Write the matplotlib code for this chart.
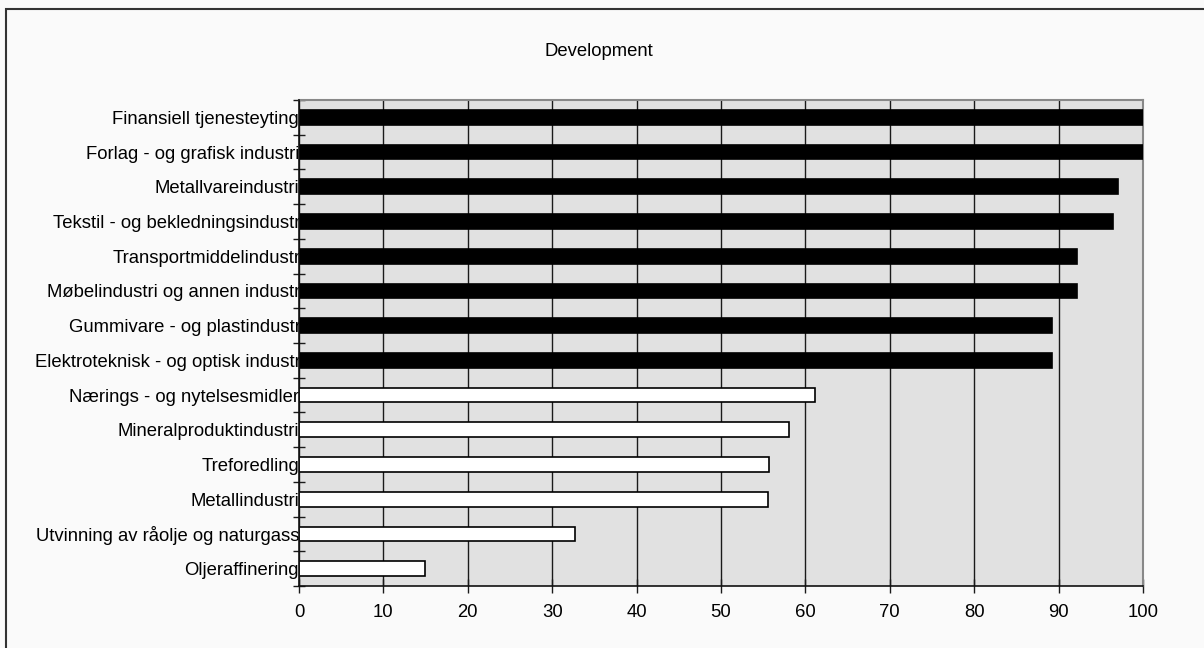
import matplotlib
matplotlib.use("Agg")
import matplotlib.pyplot as plt
from matplotlib.patches import Rectangle
from matplotlib.ticker import FixedLocator, NullFormatter

plt.rcParams['font.family'] = ['Liberation Sans', 'DejaVu Sans']

industries = [
    "Finansiell tjenesteyting",
    "Forlag - og grafisk industri",
    "Metallvareindustri",
    "Tekstil - og bekledningsindustri",
    "Transportmiddelindustri",
    "Møbelindustri og annen industri",
    "Gummivare - og plastindustri",
    "Elektroteknisk - og optisk industri",
    "Nærings - og nytelsesmidler",
    "Mineralproduktindustri",
    "Treforedling",
    "Metallindustri",
    "Utvinning av råolje og naturgass",
    "Oljeraffinering",
]
development = [100.0, 100.0, 97.0, 96.5, 92.2, 92.2, 89.2, 89.2,
               61.1, 58.1, 55.7, 55.6, 32.7, 14.9]
high_growth = [True] * 8 + [False] * 6
x_ticks = [0, 10, 20, 30, 40, 50, 60, 70, 80, 90, 100]

FS = 13.3
W, H = 1204, 648
fig = plt.figure(figsize=(W / 100, H / 100), dpi=100, facecolor="#fafafa")

# outer chart frame (left and top edges)
fig.add_artist(Rectangle((6 / W, -0.1), 1.2, 1.1 - 9.5 / H,
                         transform=fig.transFigure, fill=False,
                         edgecolor="#333333", linewidth=1.5))

ax = fig.add_axes([299 / W, 1 - 586 / H, (1143 - 299) / W, (586 - 100) / H])
ax.set_facecolor("#e1e1e1")

pos = list(range(len(industries)))
for y, v, hi in zip(pos, development, high_growth):
    ax.barh(y, v, height=0.42,
            color="black" if hi else "white",
            edgecolor="black", linewidth=1.2, zorder=3)

ax.set_xlim(0, 100)
ax.set_ylim(len(industries) - 0.5, -0.5)

ax.xaxis.set_major_locator(FixedLocator(x_ticks))
ax.set_xticklabels([str(t) for t in x_ticks], fontsize=FS)
ax.grid(axis="x", color="#1a1a1a", linewidth=1.0, zorder=1)
ax.set_axisbelow(True)
ax.tick_params(axis="x", direction="inout", length=10, width=1,
               color="#1a1a1a", pad=8)

ax.set_yticks(pos)
ax.set_yticklabels(industries, fontsize=FS)
ax.tick_params(axis="y", which="major", length=0, pad=0)
# the longest "...industri" labels run a little under the bars
for i in range(3, 8):
    ax.yaxis.get_major_ticks()[i].set_pad(-4)
ax.yaxis.set_minor_locator(FixedLocator([p - 0.5 for p in pos] + [len(pos) - 0.5]))
ax.yaxis.set_minor_formatter(NullFormatter())
ax.tick_params(axis="y", which="minor", direction="inout", length=9,
               width=1, color="#1a1a1a")

for side in ("top", "right"):
    ax.spines[side].set_color("#888888")
    ax.spines[side].set_linewidth(1.5)
for side in ("left", "bottom"):
    ax.spines[side].set_color("#111111")
    ax.spines[side].set_linewidth(1.2)
    ax.spines[side].set_zorder(4)

fig.text(599 / W, 1 - 52 / H, "Development", ha="center", va="center",
         fontsize=FS)

fig.savefig("out.png", dpi=100, facecolor=fig.get_facecolor())
